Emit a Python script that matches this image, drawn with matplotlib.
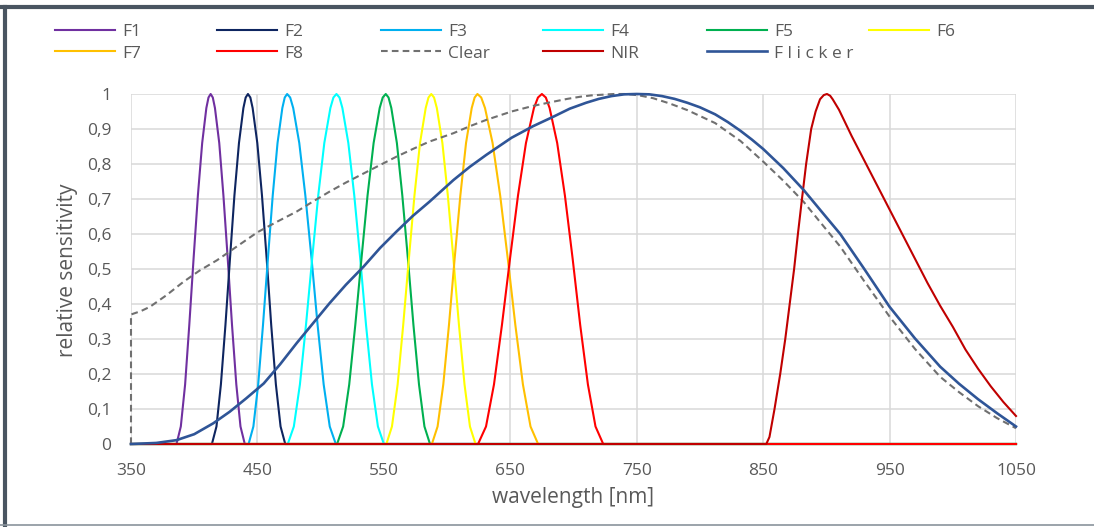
import matplotlib
matplotlib.use("Agg")
import matplotlib.pyplot as plt
from matplotlib.lines import Line2D

plt.rcParams['font.family'] = ['Open Sans', 'DejaVu Sans']

# ---------------- data ----------------
x_ticks = [350, 450, 550, 650, 750, 850, 950, 1050]
y_ticks = [0, 0.1, 0.2, 0.3, 0.4, 0.5, 0.6, 0.7, 0.8, 0.9, 1.0]
y_tick_labels = ["0", "0,1", "0,2", "0,3", "0,4", "0,5", "0,6", "0,7", "0,8", "0,9", "1"]

f1_x = [350, 386, 389.4, 392.8, 396.1, 399.5, 402.9, 406.3, 409.6, 411.3, 413, 414.7, 416.4, 419.8, 423.1, 426.5, 429.9, 433.3, 436.6, 440, 1050]
f1_y = [0, 0, 0.05, 0.17, 0.34, 0.53, 0.71, 0.86, 0.96, 0.99, 1, 0.99, 0.96, 0.86, 0.71, 0.53, 0.34, 0.17, 0.05, 0, 0]

f2_x = [350, 414, 417.6, 421.1, 424.7, 428.3, 431.8, 435.4, 438.9, 440.7, 442.5, 444.4, 446.2, 449.9, 453.6, 457.3, 460.9, 464.6, 468.3, 472, 1050]
f2_y = [0, 0, 0.05, 0.17, 0.34, 0.53, 0.71, 0.86, 0.96, 0.99, 1, 0.99, 0.96, 0.86, 0.71, 0.53, 0.34, 0.17, 0.05, 0, 0]

f3_x = [350, 443, 446.8, 450.6, 454.4, 458.3, 462.1, 465.9, 469.7, 471.6, 473.5, 475.9, 478.3, 483.1, 487.9, 492.8, 497.6, 502.4, 507.2, 512, 1050]
f3_y = [0, 0, 0.05, 0.17, 0.34, 0.53, 0.71, 0.86, 0.96, 0.99, 1, 0.99, 0.96, 0.86, 0.71, 0.53, 0.34, 0.17, 0.05, 0, 0]

f4_x = [350, 474, 478.8, 483.6, 488.4, 493.3, 498.1, 502.9, 507.7, 510.1, 512.5, 514.9, 517.2, 521.9, 526.6, 531.3, 535.9, 540.6, 545.3, 550, 1050]
f4_y = [0, 0, 0.05, 0.17, 0.34, 0.53, 0.71, 0.86, 0.96, 0.99, 1, 0.99, 0.96, 0.86, 0.71, 0.53, 0.34, 0.17, 0.05, 0, 0]

f5_x = [350, 513, 517.8, 522.6, 527.4, 532.3, 537.1, 541.9, 546.7, 549.1, 551.5, 553.7, 555.9, 560.3, 564.6, 569, 573.4, 577.8, 582.1, 586.5, 1050]
f5_y = [0, 0, 0.05, 0.17, 0.34, 0.53, 0.71, 0.86, 0.96, 0.99, 1, 0.99, 0.96, 0.86, 0.71, 0.53, 0.34, 0.17, 0.05, 0, 0]

f6_x = [350, 552, 556.4, 560.9, 565.3, 569.8, 574.2, 578.6, 583.1, 585.3, 587.5, 589.7, 591.9, 596.3, 600.6, 605, 609.4, 613.8, 618.1, 622.5, 1050]
f6_y = [0, 0, 0.05, 0.17, 0.34, 0.53, 0.71, 0.86, 0.96, 0.99, 1, 0.99, 0.96, 0.86, 0.71, 0.53, 0.34, 0.17, 0.05, 0, 0]

f7_x = [350, 588, 592.5, 597, 601.5, 606, 610.5, 615, 619.5, 621.8, 624, 627, 630, 636, 642, 648, 654, 660, 666, 672, 1050]
f7_y = [0, 0, 0.05, 0.17, 0.34, 0.53, 0.71, 0.86, 0.96, 0.99, 1, 0.99, 0.96, 0.86, 0.71, 0.53, 0.34, 0.17, 0.05, 0, 0]

f8_x = [350, 624.5, 630.8, 637.1, 643.4, 649.8, 656.1, 662.4, 668.7, 671.9, 675, 678.1, 681.1, 687.1, 693.2, 699.3, 705.3, 711.4, 717.4, 723.5, 1050]
f8_y = [0, 0, 0.05, 0.17, 0.34, 0.53, 0.71, 0.86, 0.96, 0.99, 1, 0.99, 0.96, 0.86, 0.71, 0.53, 0.34, 0.17, 0.05, 0, 0]

clear_x = [350, 350, 358, 365, 378, 391, 404, 418, 434, 450, 466, 481, 494, 507, 520, 534, 547, 560, 573, 586, 605, 618, 631, 651, 668, 684,
           695, 705, 714, 723, 732, 742, 752, 763, 776, 790, 812, 832, 850, 866, 882, 896, 911, 930, 950, 970, 990, 1005, 1020, 1035, 1050]
clear_y = [0, 0.37, 0.38, 0.392, 0.425, 0.462, 0.495, 0.525, 0.565, 0.605, 0.636, 0.664, 0.693, 0.721, 0.747, 0.773, 0.797, 0.821, 0.843, 0.864, 0.888, 0.908, 0.926, 0.950, 0.966, 0.978,
           0.986, 0.992, 0.996, 0.998, 1.0, 1.0, 0.996, 0.988, 0.973, 0.954, 0.917, 0.866, 0.807, 0.752, 0.692, 0.630, 0.564, 0.465, 0.364, 0.272, 0.192, 0.148, 0.108, 0.074, 0.045]

flicker_x = [350, 370, 386, 400, 415, 428, 441, 455, 468, 481, 494, 507, 520, 534, 547, 560, 573, 586, 605, 618, 631, 651, 668, 684, 697, 710, 720, 730,
             740, 750, 760, 770, 780, 790, 800, 812, 822, 832, 841, 850, 866, 882, 896, 911, 930, 950, 970, 990, 1005, 1020, 1035, 1050]
flicker_y = [0, 0.003, 0.011, 0.028, 0.059, 0.092, 0.13, 0.173, 0.228, 0.288, 0.345, 0.402, 0.455, 0.507, 0.560, 0.607, 0.652, 0.692, 0.754, 0.792, 0.826, 0.875, 0.908, 0.935, 0.958, 0.975, 0.986, 0.994,
             0.999, 1.0, 0.999, 0.994, 0.986, 0.975, 0.962, 0.942, 0.92, 0.895, 0.87, 0.843, 0.788, 0.726, 0.665, 0.600, 0.500, 0.392, 0.302, 0.221, 0.172, 0.128, 0.088, 0.05]

nir_x = [350, 852.5, 855, 859, 863.5, 867.5, 871, 874.5, 877.5, 880.7, 884, 888, 891.5, 895, 898, 900.5, 903, 905, 910, 920, 930,
         940, 950, 960, 970, 980, 990, 1000, 1010, 1020, 1030, 1040, 1050]
nir_y = [0, 0, 0.02, 0.10, 0.20, 0.30, 0.40, 0.50, 0.60, 0.70, 0.80, 0.90, 0.95, 0.985, 0.997, 1.0, 0.995, 0.985, 0.955, 0.88, 0.81,
         0.74, 0.67, 0.60, 0.53, 0.46, 0.395, 0.335, 0.27, 0.215, 0.165, 0.12, 0.08]

series = [
    ("F1", f1_x, f1_y, "#7030A0", "-"),
    ("F2", f2_x, f2_y, "#0E2560", "-"),
    ("F3", f3_x, f3_y, "#00B0F0", "-"),
    ("F4", f4_x, f4_y, "#00FFFF", "-"),
    ("F5", f5_x, f5_y, "#00B050", "-"),
    ("F6", f6_x, f6_y, "#FFFF00", "-"),
    ("F7", f7_x, f7_y, "#FFC000", "-"),
    ("F8", f8_x, f8_y, "#FF0000", "-"),
    ("Clear", clear_x, clear_y, "#707070", "--"),
    ("NIR", nir_x, nir_y, "#C00000", "-"),
    ("F l i c k e r", flicker_x, flicker_y, "#2F5597", "-"),
]

# ---------------- figure ----------------
W, H = 1094, 527
fig = plt.figure(figsize=(W / 100, H / 100), dpi=100)
ax = fig.add_axes([131 / W, 1 - 444 / H, 885 / W, 350 / H])

handles = {}
for name, xs, ys, col, ls in series:
    lw = 1.9 if name.startswith("F l") else 1.5
    if ls == "--":
        ln, = ax.plot(xs, ys, color=col, lw=1.5, dashes=(3.2, 2.0), clip_on=False, label=name)
    else:
        ln, = ax.plot(xs, ys, color=col, lw=lw, clip_on=False, label=name,
                      solid_joinstyle="round")
    handles[name] = ln

ax.set_xlim(350, 1050)
ax.set_ylim(0, 1)
ax.set_xticks(x_ticks)
ax.set_xticklabels([str(v) for v in x_ticks])
ax.set_yticks(y_ticks)
ax.set_yticklabels(y_tick_labels)
ax.grid(True, color="#D9D9D9", lw=1.1)
ax.set_axisbelow(True)
for s in ax.spines.values():
    s.set_visible(False)
ax.tick_params(axis="both", length=0, labelsize=12.5, labelcolor="#595959")
ax.tick_params(axis="x", pad=14)
ax.tick_params(axis="y", pad=14)
ax.set_xlabel("wavelength [nm]", fontsize=15, color="#595959")
ax.set_ylabel("relative sensitivity", fontsize=15, color="#595959")
ax.xaxis.label.set_va("center")
ax.yaxis.label.set_va("center")
ax.xaxis.set_label_coords((573 - 131) / 885, (444 - 497) / 350)
ax.yaxis.set_label_coords((67 - 131) / 885, (444 - 270) / 350)

# legend: six columns, two rows (row-major like the reference)
columns = [("F1", "F7"), ("F2", "F8"), ("F3", "Clear"), ("F4", "NIR"), ("F5", "F l i c k e r"), ("F6",)]
col_x = [55, 217, 381, 543, 707, 869]
for names, cx in zip(columns, col_x):
    fig.legend([handles[n] for n in names], list(names), loc="upper left",
               bbox_to_anchor=(cx / W, 1 - 24 / H), frameon=False, fontsize=12.5,
               handlelength=3.45, handletextpad=0.4, labelspacing=0.3, borderpad=0,
               borderaxespad=0, labelcolor="#595959")

# figure frame
fig.add_artist(Line2D([0, 1], [1 - 7 / H, 1 - 7 / H], transform=fig.transFigure, color="#4A5561", lw=3))
fig.add_artist(Line2D([5 / W, 5 / W], [1 - 7 / H, 1 - 525 / H], transform=fig.transFigure, color="#4A5561", lw=3))
fig.add_artist(Line2D([0, 1], [1 - 525 / H, 1 - 525 / H], transform=fig.transFigure, color="#8A949C", lw=1.2))

fig.savefig("out.png", dpi=100)
